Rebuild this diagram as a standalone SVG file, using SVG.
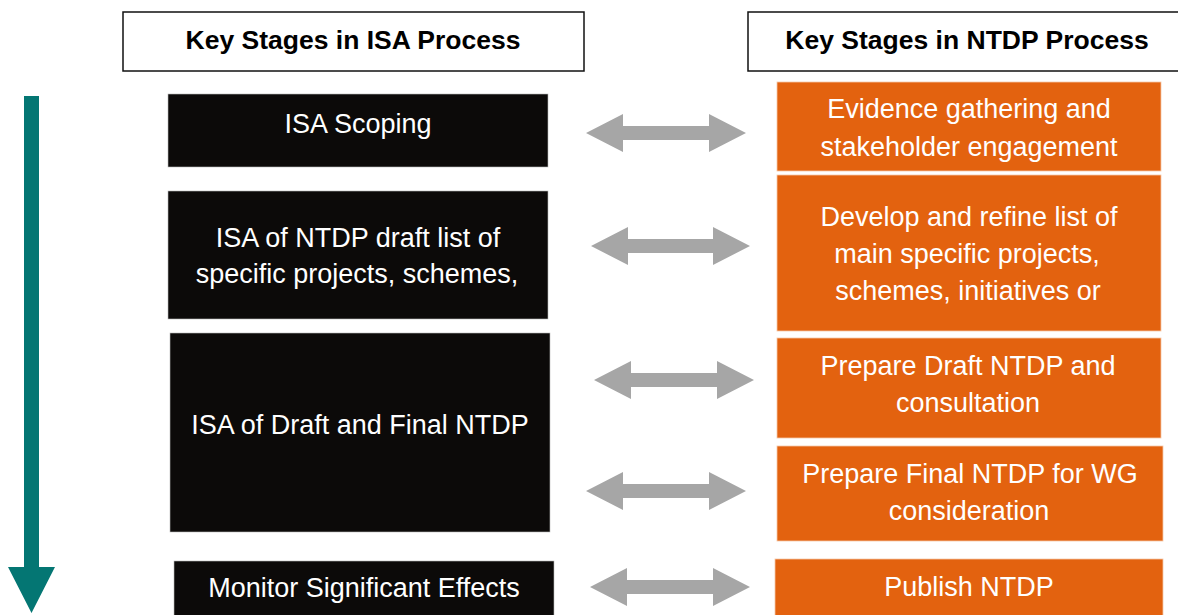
<svg xmlns="http://www.w3.org/2000/svg" width="1178" height="615" viewBox="0 0 1178 615">
<style>
.hdr{fill:#fff;stroke:#111;stroke-width:1.5}
.htxt{font-family:"Liberation Sans",Arial,sans-serif;font-size:26.5px;font-weight:bold;fill:#000;text-anchor:middle}
.blk{fill:#0c0a09;stroke:#bbb;stroke-width:0.6}
.org{fill:#e3620f;stroke:#f6c9a8;stroke-width:0.8}
.t{font-family:"Liberation Sans",Arial,sans-serif;font-size:27px;fill:#fff;text-anchor:middle}
.dbl{fill:#a6a6a6}
</style>
<rect width="1178" height="615" fill="#fff"/>
<g id="hdr-isa"><rect class="hdr" x="123" y="12" width="461" height="59"/><text class="htxt" x="353" y="49">Key Stages in ISA Process</text></g>
<g id="hdr-ntdp"><rect class="hdr" x="748" y="12" width="440" height="59"/><text class="htxt" x="967" y="49">Key Stages in NTDP Process</text></g>
<g id="isa1"><rect class="blk" x="168" y="94" width="380" height="73"/><text class="t" x="358" y="133">ISA Scoping</text></g>
<g id="isa2"><rect class="blk" x="168" y="191" width="380" height="128"/><text class="t" x="358" y="247">ISA of NTDP draft list of</text><text class="t" x="357" y="283">specific projects, schemes,</text></g>
<g id="isa3"><rect class="blk" x="170" y="333" width="380" height="199"/><text class="t" x="360" y="434">ISA of Draft and Final NTDP</text></g>
<g id="isa4"><rect class="blk" x="174" y="561" width="380" height="60"/><text class="t" x="364" y="597">Monitor Significant Effects</text></g>
<g id="ntdp1"><rect class="org" x="777" y="82" width="384" height="89"/><text class="t" x="969" y="118">Evidence gathering and</text><text class="t" x="969" y="156">stakeholder engagement</text></g>
<g id="ntdp2"><rect class="org" x="777" y="175" width="384" height="156"/><text class="t" x="969" y="226">Develop and refine list of</text><text class="t" x="967" y="263">main specific projects,</text><text class="t" x="968" y="300">schemes, initiatives or</text></g>
<g id="ntdp3"><rect class="org" x="777" y="338" width="384" height="100"/><text class="t" x="968" y="375">Prepare Draft NTDP and</text><text class="t" x="968" y="412">consultation</text></g>
<g id="ntdp4"><rect class="org" x="777" y="446" width="386" height="95"/><text class="t" x="970" y="483">Prepare Final NTDP for WG</text><text class="t" x="969" y="520">consideration</text></g>
<g id="ntdp5"><rect class="org" x="775" y="559" width="388" height="60"/><text class="t" x="969" y="596">Publish NTDP</text></g>
<g id="connectors">
<polygon class="dbl" points="586,133 623,114 623,126 709,126 709,114 746,133 709,152 709,140 623,140 623,152"/>
<polygon class="dbl" points="591,246 628,227 628,239 713,239 713,227 750,246 713,265 713,253 628,253 628,265"/>
<polygon class="dbl" points="594,380 631,361 631,373 717,373 717,361 754,380 717,399 717,387 631,387 631,399"/>
<polygon class="dbl" points="586,491 623,472 623,484 709,484 709,472 746,491 709,510 709,498 623,498 623,510"/>
<polygon class="dbl" points="590,587 627,568 627,580 713,580 713,568 750,587 713,606 713,594 627,594 627,606"/>
<polygon id="timeline" fill="#047673" points="24,96 39,96 39,567 55,567 31.5,613 8,567 24,567"/>
</g>
</svg>
